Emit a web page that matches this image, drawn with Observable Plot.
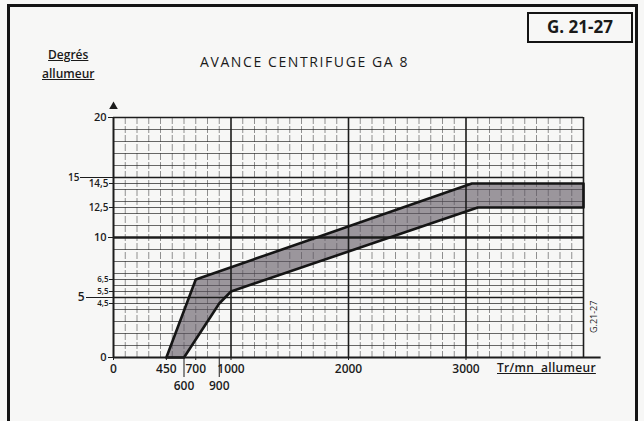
<!DOCTYPE html>
<html>
<head>
<meta charset="utf-8">
<script src="https://cdn.jsdelivr.net/npm/d3@7"></script>
<script src="https://cdn.jsdelivr.net/npm/@observablehq/plot@0.6"></script>
<style>
  html, body { margin: 0; padding: 0; background: #f7f7f6; }
  #wrap { position: relative; width: 644px; height: 421px; overflow: hidden; font-family: "Open Sans", "DejaVu Sans", sans-serif; color: #1a1a1a; }
  #frame { position: absolute; left: 7px; top: 4px; width: 631px; height: 430px; border: 3px solid #141414; box-sizing: border-box; }
  .abs { position: absolute; white-space: nowrap; }
  #ref { left: 527px; top: 12px; width: 106px; height: 31px; border: 2.5px solid #141414; box-sizing: border-box; font-weight: 700; font-size: 17px; line-height: 26px; text-align: center; }
  #title { left: 200px; top: 52px; font-size: 14px; letter-spacing: 1.6px; }
  #ylab { left: 42px; top: 45px; font-size: 12px; font-weight: 600; text-align: center; line-height: 19px; }
  #ylab span { text-decoration: underline; }
  #xlab { left: 497px; top: 359px; font-size: 12px; font-weight: 600; text-decoration: underline; letter-spacing: 0.3px; }
  #side { left: 587px; top: 333px; font-size: 9px; transform: rotate(-90deg); transform-origin: left top; }
  #chart { position: absolute; left: 0; top: 0; }
  #chart svg text { font-weight: 600; }
</style>
</head>
<body>
<div id="wrap">
  <div id="chart"></div>
  <div id="frame"></div>
  <div class="abs" id="ref">G. 21-27</div>
  <div class="abs" id="title">AVANCE CENTRIFUGE GA 8</div>
  <div class="abs" id="ylab"><span>Degrés</span><br><span>allumeur</span></div>
  <div class="abs" id="xlab">Tr/mn&nbsp;&nbsp;allumeur</div>
  <div class="abs" id="side">G.21-27</div>
</div>
<script>
// --- data ---
const rpmDomain = [0, 4000];
const degDomain = [0, 20];
const axisEnd = [4150];
// advance band outline: rpm, degrees (upper edge then lower edge back)
const bandRpm = [450, 700, 3050, 4000, 4000, 3100, 1000, 900, 600, 450];
const bandDeg = [0, 6.5, 14.5, 14.5, 12.5, 12.5, 5.5, 4.5, 0, 0];
// tick labels
const xTicksMain = [0, 450, 700, 1000, 2000, 3000];
const xTicksLow = [600, 900];
const yTicksNear = [0, 10, 20];
const yTicksFar5 = [5];
const yTicksFar15 = [15];
const yTicksHalfSmall = [4.5, 5.5, 6.5];
const yTicksHalf = [12.5, 14.5];
// grid
const xMajor = [1000, 2000, 3000, 4000];
const xMinor = d3.range(100, 4000, 100).filter(v => v % 1000 !== 0);
const yMinor = d3.range(1, 20, 1).filter(v => v % 5 !== 0);
const yMajor = [5, 15, 20];
const yHeavy = [10];
const yHalfLines = [4.5, 5.5, 6.5, 12.5, 14.5];

const band = bandRpm.map((r, i) => ({rpm: r, deg: bandDeg[i]}));
const fmtComma = d => String(d).replace(".", ",");
const fmtPlain = d => String(d);
const ink = "#1c1c1c";

const chart = Plot.plot({
  width: 644,
  height: 421,
  marginLeft: 113,
  marginRight: 61,
  marginTop: 117,
  marginBottom: 64,
  style: {background: "transparent", fontFamily: "'Open Sans', 'DejaVu Sans', sans-serif", color: ink, overflow: "visible"},
  x: {domain: rpmDomain, axis: null},
  y: {domain: degDomain, axis: null},
  marks: [
    Plot.ruleX(xMinor, {stroke: "#3a3a3a", strokeOpacity: 0.55, strokeWidth: 1, strokeDasharray: "7,2"}),
    Plot.ruleY(yMinor, {stroke: "#2a2a2a", strokeOpacity: 0.7, strokeWidth: 1.2}),
    Plot.ruleY(yHalfLines, {stroke: "#2a2a2a", strokeOpacity: 0.75, strokeWidth: 1.2}),
    Plot.line(band, {x: "rpm", y: "deg", fill: "#5e5560", fillOpacity: 0.6, stroke: "none"}),
    Plot.ruleX(xMajor, {stroke: ink, strokeWidth: 1.6}),
    Plot.ruleY(yMajor, {stroke: ink, strokeWidth: 1.6}),
    Plot.ruleY(yHeavy, {stroke: ink, strokeWidth: 2.4}),
    Plot.line(band, {x: "rpm", y: "deg", stroke: "#151515", strokeWidth: 2.6, strokeLinejoin: "round"}),
    Plot.ruleX([0], {stroke: ink, strokeWidth: 2}),
    Plot.ruleY([0], {x1: 0, x2: axisEnd[0], stroke: ink, strokeWidth: 2, clip: false}),
    Plot.dot([0], {x: d => d, y: degDomain[1], symbol: "triangle", r: 3.2, dy: -11, fill: ink, stroke: "none"}),
    Plot.axisY(yTicksNear, {label: null, tickSize: 5, tickPadding: 2, fontSize: 11, tickFormat: fmtPlain, stroke: ink}),
    Plot.axisY(yTicksFar5, {label: null, tickSize: 27, tickPadding: 2, fontSize: 12, tickFormat: fmtPlain, stroke: ink}),
    Plot.axisY(yTicksFar15, {label: null, tickSize: 33, tickPadding: 1, fontSize: 10, tickFormat: fmtPlain, stroke: ink}),
    Plot.axisY(yTicksHalf, {label: null, tickSize: 4, tickPadding: 1, fontSize: 10, tickFormat: fmtComma, stroke: ink}),
    Plot.axisY(yTicksHalfSmall, {label: null, tickSize: 4, tickPadding: 1, fontSize: 8, tickFormat: fmtComma, stroke: ink}),
    Plot.axisX(xTicksMain, {label: null, tickSize: 3, tickPadding: 4, fontSize: 12, tickFormat: fmtPlain, stroke: ink}),
    Plot.axisX(xTicksLow, {label: null, tickSize: 20, tickPadding: 4, fontSize: 12, tickFormat: fmtPlain, stroke: ink})
  ]
});
document.getElementById("chart").appendChild(chart);
</script>
</body>
</html>
